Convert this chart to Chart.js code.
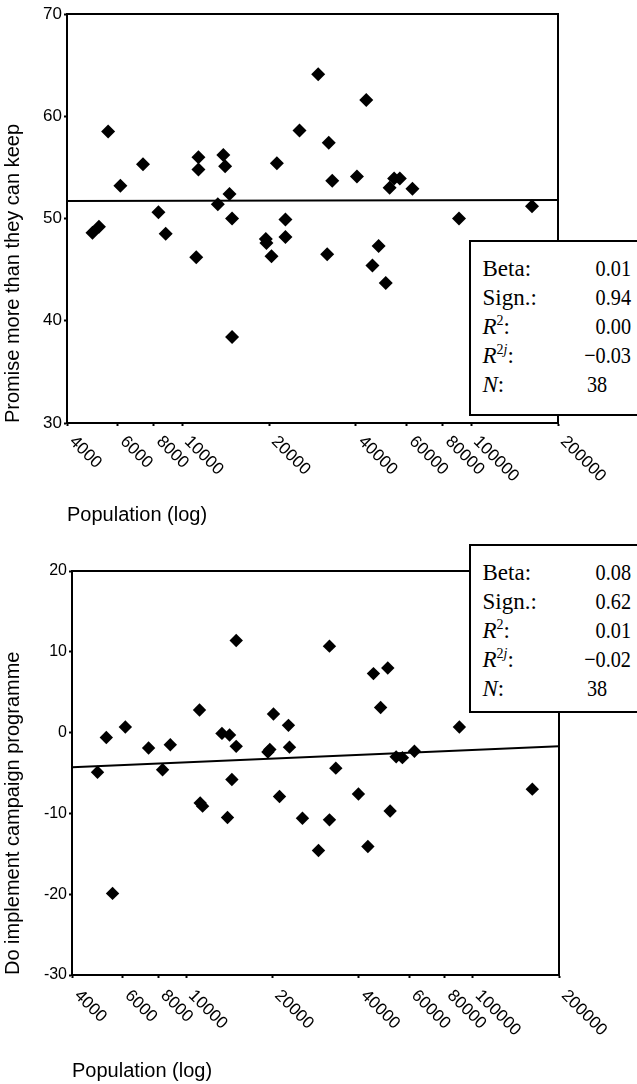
<!DOCTYPE html>
<html>
<head>
<meta charset="utf-8">
<script src="https://cdn.jsdelivr.net/npm/chart.js@4.4.1/dist/chart.umd.min.js"></script>
<style>
  html, body { margin: 0; padding: 0; background: #fff; }
  body { width: 637px; height: 1084px; position: relative; overflow: hidden; }
  canvas { position: absolute; left: 0; }
  #promise-chart { top: 0; }
  #implement-chart { top: 540px; }
  .stats {
    position: absolute; left: 469px; width: 172px;
    border: 2px solid #000; background: #fff;
    padding: 11.5px 0 0 11.5px;
    font-family: "Liberation Serif", "Times New Roman", serif;
    font-size: 23px; line-height: 29px; color: #000;
  }
  .row { position: relative; height: 29px; white-space: nowrap; }
  .val { position: absolute; top: 0; left: 0; width: 148px; text-align: right;
         transform: scaleX(0.88); transform-origin: 100% 50%; }
  .val.int { left: 104.5px; width: auto; text-align: left; transform-origin: 0 50%; }
  .sup { font-size: 14px; position: relative; top: -9px; line-height: 0; }
</style>
</head>
<body>
<canvas id="promise-chart" width="637" height="540"></canvas>
<canvas id="implement-chart" width="637" height="544"></canvas>

<div class="stats" style="top:240px; height:160.5px;">
  <div class="row">Beta:<span class="val">0.01</span></div>
  <div class="row">Sign.:<span class="val">0.94</span></div>
  <div class="row"><i>R</i><span class="sup">2</span>:<span class="val">0.00</span></div>
  <div class="row"><i>R</i><span class="sup">2<i>j</i></span>:<span class="val">&minus;0.03</span></div>
  <div class="row"><i>N</i>:<span class="val int">38</span></div>
</div>

<div class="stats" style="top:544px; height:153.5px;">
  <div class="row">Beta:<span class="val">0.08</span></div>
  <div class="row">Sign.:<span class="val">0.62</span></div>
  <div class="row"><i>R</i><span class="sup">2</span>:<span class="val">0.01</span></div>
  <div class="row"><i>R</i><span class="sup">2<i>j</i></span>:<span class="val">&minus;0.02</span></div>
  <div class="row"><i>N</i>:<span class="val int">38</span></div>
</div>

<script>
// shared x axis
const xTicks = [4000, 6000, 8000, 10000, 20000, 40000, 60000, 80000, 100000, 200000];
const fitX = [4000, 200000];

// top: promise more than they can keep
const promisePopulation = [4900, 5160, 5550, 6120, 7330, 8290, 8780, 11200, 11400, 11400,
    13300, 13900, 14100, 14600, 14900, 14900, 19500, 19600, 20400, 21300,
    22800, 22800, 25500, 29600, 31800, 32200, 33100, 40300, 43400, 45600,
    47900, 50700, 52300, 54200, 56700, 62700, 90900, 162600];
const promiseScore = [48.6, 49.2, 58.5, 53.2, 55.3, 50.6, 48.5, 46.2, 56.0, 54.8,
    51.4, 56.2, 55.1, 52.4, 50.0, 38.4, 48.0, 47.6, 46.3, 55.4,
    49.9, 48.2, 58.6, 64.1, 46.5, 57.4, 53.7, 54.1, 61.6, 45.4,
    47.3, 43.7, 53.0, 53.9, 53.9, 52.9, 50.0, 51.2];
const promiseFit = [51.7, 51.8];
const promiseYTicks = [30, 40, 50, 60, 70];

// bottom: do implement campaign programme
const implementPopulation = [4910, 5270, 5540, 6140, 7400, 8280, 8810, 11140, 11200, 11420,
    13340, 13950, 14180, 14450, 14960, 14960, 19300, 19600, 20180, 21180,
    22760, 22950, 25470, 28970, 31640, 31640, 33300, 39930, 43080, 45050,
    47720, 50550, 51510, 54070, 56850, 62610, 89850, 161400];
const implementScore = [-4.9, -0.6, -19.9, 0.7, -1.9, -4.6, -1.5, 2.8, -8.7, -9.1,
    -0.1, -10.5, -0.3, -5.8, 11.4, -1.7, -2.4, -2.1, 2.3, -7.9,
    0.9, -1.8, -10.6, -14.6, 10.7, -10.8, -4.4, -7.6, -14.1, 7.3,
    3.1, 8.0, -9.7, -3.0, -3.1, -2.3, 0.7, -7.0];
const implementFit = [-4.3, -1.7];
const implementYTicks = [-30, -20, -10, 0, 10, 20];

Chart.defaults.font.family = '"Liberation Sans", Arial, sans-serif';
Chart.defaults.color = '#000';

function pairs(xs, ys) {
    return xs.map((x, i) => ({ x: x, y: ys[i] }));
}

// top and right edges of the plot box
const frame = {
    id: 'frame',
    afterDraw(chart) {
        const { ctx, chartArea: a } = chart;
        ctx.save();
        ctx.strokeStyle = '#000';
        ctx.lineWidth = 2;
        ctx.beginPath();
        ctx.moveTo(a.left, a.top);
        ctx.lineTo(a.right, a.top);
        ctx.lineTo(a.right, a.bottom);
        ctx.stroke();
        ctx.restore();
    }
};

// x labels slant down to the right, starting at the tick
const slantedXLabels = {
    id: 'slantedXLabels',
    afterDraw(chart, args, opts) {
        const sc = chart.scales.x;
        const ctx = chart.ctx;
        ctx.save();
        ctx.font = opts.size + 'px "Liberation Sans", Arial, sans-serif';
        ctx.fillStyle = '#000';
        ctx.textAlign = 'left';
        ctx.textBaseline = 'middle';
        xTicks.forEach(v => {
            ctx.save();
            ctx.translate(sc.getPixelForValue(v) + opts.dx, sc.top + opts.dy);
            ctx.rotate(Math.PI / 4);
            ctx.fillText(String(v), 0, 0);
            ctx.restore();
        });
        ctx.restore();
    }
};

function drawScatter(canvasId, s) {
    const axisGrid = { drawOnChartArea: false, drawTicks: true, tickLength: 3, tickWidth: 2, tickColor: '#000' };
    const axisBorder = { display: true, color: '#000', width: 2 };

    return new Chart(document.getElementById(canvasId), {
        type: 'scatter',
        data: {
            datasets: [
                {
                    data: pairs(s.population, s.score),
                    pointStyle: 'rectRot',
                    pointRadius: s.radius,
                    pointHoverRadius: s.radius,
                    backgroundColor: '#000',
                    borderWidth: 0
                },
                {
                    type: 'line',
                    data: pairs(fitX, s.fit),
                    borderColor: '#000',
                    borderWidth: 2,
                    pointRadius: 0,
                    fill: false,
                    tension: 0
                }
            ]
        },
        options: {
            responsive: false,
            animation: false,
            devicePixelRatio: 1,
            layout: { padding: s.padding },
            plugins: {
                legend: { display: false },
                tooltip: { enabled: false },
                slantedXLabels: { dx: 5, dy: s.labelDy, size: 17 }
            },
            scales: {
                x: {
                    type: 'logarithmic',
                    min: 4000,
                    max: 200000,
                    afterBuildTicks: sc => { sc.ticks = xTicks.map(v => ({ value: v })); },
                    afterFit: sc => { sc.height = s.xHeight; },
                    ticks: { display: false },
                    grid: axisGrid,
                    border: axisBorder,
                    title: {
                        display: true,
                        text: 'Population (log)',
                        align: 'start',
                        color: '#000',
                        font: { size: 20 },
                        padding: { top: 0, bottom: s.titlePad }
                    }
                },
                y: {
                    min: s.yTicks[0],
                    max: s.yTicks[s.yTicks.length - 1],
                    afterBuildTicks: sc => { sc.ticks = s.yTicks.map(v => ({ value: v })); },
                    afterFit: sc => { sc.width = s.yWidth; },
                    ticks: { color: '#000', font: { size: s.yFont }, padding: 2 },
                    grid: axisGrid,
                    border: axisBorder,
                    title: {
                        display: true,
                        text: s.yTitle,
                        align: 'start',
                        color: '#000',
                        font: { size: 20 },
                        padding: { top: 1, bottom: 0 }
                    }
                }
            }
        },
        plugins: [frame, slantedXLabels]
    });
}

drawScatter('promise-chart', {
    population: promisePopulation,
    score: promiseScore,
    fit: promiseFit,
    yTicks: promiseYTicks,
    yTitle: 'Promise more than they can keep',
    padding: { top: 14, right: 79, bottom: 0, left: 0 },
    yWidth: 67,
    xHeight: 117,
    titlePad: 12.5,
    labelDy: 16,
    yFont: 17,
    radius: 7
});

drawScatter('implement-chart', {
    population: implementPopulation,
    score: implementScore,
    fit: implementFit,
    yTicks: implementYTicks,
    yTitle: 'Do implement campaign programme',
    padding: { top: 31, right: 78, bottom: 0, left: 0 },
    yWidth: 72,
    xHeight: 109,
    titlePad: 0.5,
    labelDy: 18,
    yFont: 16,
    radius: 6.7
});
</script>
</body>
</html>
